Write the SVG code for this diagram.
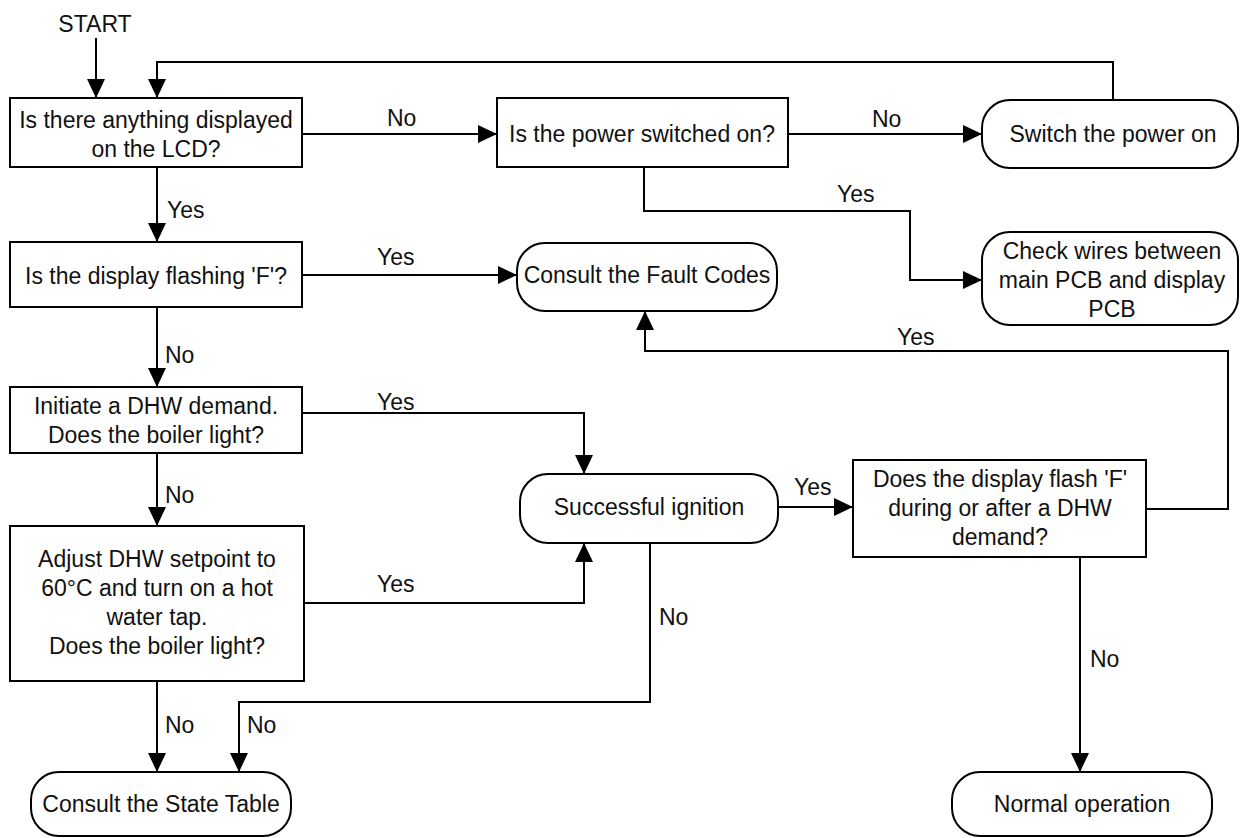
<svg xmlns="http://www.w3.org/2000/svg" width="1240" height="838" viewBox="0 0 1240 838">
<style>
  .box { fill: #fff; stroke: #000; stroke-width: 2; }
  .t { font-family: "Liberation Sans", Arial, sans-serif; font-size: 23px; fill: #111; text-anchor: middle; }
  .lbl { font-family: "Liberation Sans", Arial, sans-serif; font-size: 23px; fill: #111; }
  .c { fill: none; stroke: #000; stroke-width: 2; }
  .a { marker-end: url(#arr); }
</style>
<defs>
  <marker id="arr" markerUnits="userSpaceOnUse" markerWidth="19" markerHeight="18" refX="19" refY="9" orient="auto">
    <path d="M0,0 L19,9 L0,18 z" fill="#000"/>
  </marker>
</defs>
<rect width="1240" height="838" fill="#fff"/>

<g id="connectors">
  <path class="c a" d="M96,38 V98"/>
  <path class="c a" d="M1113,100 V62 H157 V98"/>
  <path class="c a" d="M302,134 H497"/>
  <path class="c a" d="M788,134 H982"/>
  <path class="c a" d="M644,167 V211 H910 V280 H982"/>
  <path class="c a" d="M157,167 V242"/>
  <path class="c a" d="M302,275 H517"/>
  <path class="c a" d="M157,307 V387"/>
  <path class="c a" d="M302,413 H584 V474"/>
  <path class="c a" d="M157,453 V526"/>
  <path class="c a" d="M304,603 H584 V543"/>
  <path class="c a" d="M157,681 V772"/>
  <path class="c a" d="M650,543 V702 H239 V772"/>
  <path class="c a" d="M778,507 H853"/>
  <path class="c a" d="M1146,509 H1228 V351 H645 V311"/>
  <path class="c a" d="M1080,557 V772"/>
  <text class="lbl" x="387" y="126">No</text>
  <text class="lbl" x="872" y="127">No</text>
  <text class="lbl" x="837" y="202">Yes</text>
  <text class="lbl" x="167" y="218">Yes</text>
  <text class="lbl" x="377" y="265">Yes</text>
  <text class="lbl" x="165" y="363">No</text>
  <text class="lbl" x="377" y="410">Yes</text>
  <text class="lbl" x="165" y="503">No</text>
  <text class="lbl" x="377" y="592">Yes</text>
  <text class="lbl" x="165" y="733">No</text>
  <text class="lbl" x="247" y="733">No</text>
  <text class="lbl" x="659" y="625">No</text>
  <text class="lbl" x="794" y="495">Yes</text>
  <text class="lbl" x="897" y="345">Yes</text>
  <text class="lbl" x="1090" y="667">No</text>
</g>

<g id="start"><text class="t" x="95" y="32">START</text></g>

<g id="n1">
  <rect class="box" x="10" y="98" width="292" height="69"/>
  <text class="t" x="156" y="128">Is there anything displayed</text>
  <text class="t" x="156" y="157">on the LCD?</text>
</g>
<g id="n2">
  <rect class="box" x="497" y="98" width="291" height="69"/>
  <text class="t" x="642" y="142">Is the power switched on?</text>
</g>
<g id="n3">
  <rect class="box" x="982" y="100" width="256" height="68" rx="28" ry="28"/>
  <text class="t" x="1113" y="142">Switch the power on</text>
</g>
<g id="n4">
  <rect class="box" x="10" y="242" width="292" height="65"/>
  <text class="t" x="156" y="284">Is the display flashing 'F'?</text>
</g>
<g id="n5">
  <rect class="box" x="517" y="243" width="260" height="68" rx="28" ry="28"/>
  <text class="t" x="647" y="283">Consult the Fault Codes</text>
</g>
<g id="n6">
  <rect class="box" x="982" y="232" width="256" height="93" rx="28" ry="28"/>
  <text class="t" x="1112" y="259">Check wires between</text>
  <text class="t" x="1112" y="288">main PCB and display</text>
  <text class="t" x="1112" y="317">PCB</text>
</g>
<g id="n7">
  <rect class="box" x="10" y="387" width="292" height="66"/>
  <text class="t" x="156" y="414">Initiate a DHW demand.</text>
  <text class="t" x="156" y="443">Does the boiler light?</text>
</g>
<g id="n8">
  <rect class="box" x="520" y="474" width="258" height="69" rx="28" ry="28"/>
  <text class="t" x="649" y="515">Successful ignition</text>
</g>
<g id="n9">
  <rect class="box" x="853" y="460" width="293" height="97"/>
  <text class="t" x="1000" y="487">Does the display flash 'F'</text>
  <text class="t" x="1000" y="516">during or after a DHW</text>
  <text class="t" x="1000" y="545">demand?</text>
</g>
<g id="n10">
  <rect class="box" x="10" y="526" width="294" height="155"/>
  <text class="t" x="157" y="567">Adjust DHW setpoint to</text>
  <text class="t" x="157" y="596">60°C and turn on a hot</text>
  <text class="t" x="157" y="625">water tap.</text>
  <text class="t" x="157" y="654">Does the boiler light?</text>
</g>
<g id="n11">
  <rect class="box" x="31" y="772" width="260" height="64" rx="28" ry="28"/>
  <text class="t" x="161" y="812">Consult the State Table</text>
</g>
<g id="n12">
  <rect class="box" x="952" y="772" width="260" height="64" rx="28" ry="28"/>
  <text class="t" x="1082" y="812">Normal operation</text>
</g>
</svg>
